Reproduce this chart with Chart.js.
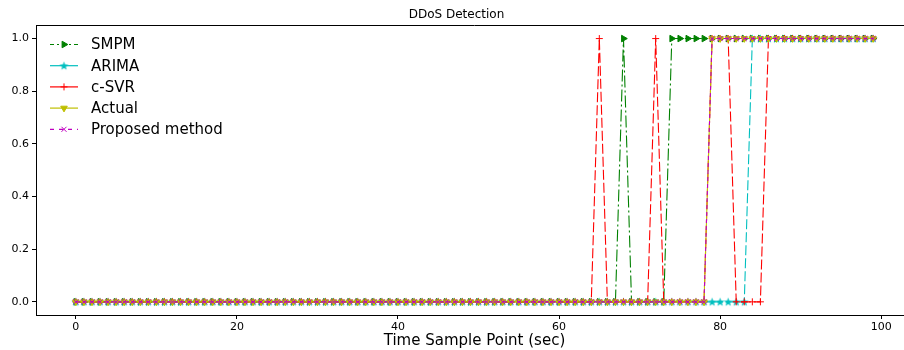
<!DOCTYPE html>
<html><head><meta charset="utf-8">
<script src="https://cdn.jsdelivr.net/npm/chart.js@4"></script>
<style>
html,body{margin:0;padding:0;background:#fff;overflow:hidden;}
#wrap{position:relative;width:920px;height:350px;}
</style></head>
<body><div id="wrap"><canvas id="c" width="920" height="350"></canvas></div>
<script>
// ---- data ----
const samplePoints = [
 0,1,2,3,4,5,6,7,8,9,
 10,11,12,13,14,15,16,17,18,19,
 20,21,22,23,24,25,26,27,28,29,
 30,31,32,33,34,35,36,37,38,39,
 40,41,42,43,44,45,46,47,48,49,
 50,51,52,53,54,55,56,57,58,59,
 60,61,62,63,64,65,66,67,68,69,
 70,71,72,73,74,75,76,77,78,79,
 80,81,82,83,84,85,86,87,88,89,
 90,91,92,93,94,95,96,97,98,99];
const smpm = [
 0,0,0,0,0,0,0,0,0,0,
 0,0,0,0,0,0,0,0,0,0,
 0,0,0,0,0,0,0,0,0,0,
 0,0,0,0,0,0,0,0,0,0,
 0,0,0,0,0,0,0,0,0,0,
 0,0,0,0,0,0,0,0,0,0,
 0,0,0,0,0,0,0,0,1,0,
 0,0,0,0,1,1,1,1,1,1,
 1,1,1,1,1,1,1,1,1,1,
 1,1,1,1,1,1,1,1,1,1];
const arima = [
 0,0,0,0,0,0,0,0,0,0,
 0,0,0,0,0,0,0,0,0,0,
 0,0,0,0,0,0,0,0,0,0,
 0,0,0,0,0,0,0,0,0,0,
 0,0,0,0,0,0,0,0,0,0,
 0,0,0,0,0,0,0,0,0,0,
 0,0,0,0,0,0,0,0,0,0,
 0,0,0,0,0,0,0,0,0,0,
 0,0,0,0,1,1,1,1,1,1,
 1,1,1,1,1,1,1,1,1,1];
const csvr = [
 0,0,0,0,0,0,0,0,0,0,
 0,0,0,0,0,0,0,0,0,0,
 0,0,0,0,0,0,0,0,0,0,
 0,0,0,0,0,0,0,0,0,0,
 0,0,0,0,0,0,0,0,0,0,
 0,0,0,0,0,0,0,0,0,0,
 0,0,0,0,0,1,0,0,0,0,
 0,0,1,0,0,0,0,0,0,1,
 1,1,0,0,0,0,1,1,1,1,
 1,1,1,1,1,1,1,1,1,1];
const actual = [
 0,0,0,0,0,0,0,0,0,0,
 0,0,0,0,0,0,0,0,0,0,
 0,0,0,0,0,0,0,0,0,0,
 0,0,0,0,0,0,0,0,0,0,
 0,0,0,0,0,0,0,0,0,0,
 0,0,0,0,0,0,0,0,0,0,
 0,0,0,0,0,0,0,0,0,0,
 0,0,0,0,0,0,0,0,0,1,
 1,1,1,1,1,1,1,1,1,1,
 1,1,1,1,1,1,1,1,1,1];
const proposed = [
 0,0,0,0,0,0,0,0,0,0,
 0,0,0,0,0,0,0,0,0,0,
 0,0,0,0,0,0,0,0,0,0,
 0,0,0,0,0,0,0,0,0,0,
 0,0,0,0,0,0,0,0,0,0,
 0,0,0,0,0,0,0,0,0,0,
 0,0,0,0,0,0,0,0,0,0,
 0,0,0,0,0,0,0,0,0,1,
 1,1,1,1,1,1,1,1,1,1,
 1,1,1,1,1,1,1,1,1,1];
const xTicks = [0,20,40,60,80,100];
const yTicks = [0.0,0.2,0.4,0.6,0.8,1.0];
const seriesNames = ['SMPM','ARIMA','c-SVR','Actual','Proposed method'];

// ---- helpers ----
const FONT = "'DejaVu Sans', sans-serif";
function starImg(color){
  const c=document.createElement('canvas'); c.width=11; c.height=11;
  const g=c.getContext('2d'); g.fillStyle=color; g.beginPath();
  for(let i=0;i<10;i++){const r=(i%2)?1.9:4.6; const a=-Math.PI/2+i*Math.PI/5; g.lineTo(5.5+r*Math.cos(a),5.8+r*Math.sin(a));}
  g.closePath(); g.fill(); return c;
}
const star = starImg('#00bfbf');
function pts(arr){ return samplePoints.map((x,i)=>({x:x,y:arr[i]})); }

const styles = [
  {color:'#008000', dash:[12,3,2,3], legDash:[4,3,2,3], style:'triangle', rot:90, r:3.8},
  {color:'#00bfbf', dash:[10,3], legDash:[], style:star, rot:0, r:4},
  {color:'#ff0000', dash:[10,3], legDash:[], style:'cross', rot:0, r:3.5},
  {color:'#bfbf00', dash:[], legDash:[], style:'triangle', rot:180, r:3.8},
  {color:'#bf00bf', dash:[4,3], legDash:[4,5], style:'crossRot', rot:0, r:3.6}
];
const seriesData = [smpm, arima, csvr, actual, proposed];

const datasets = seriesNames.map((n,i)=>({
  label:n, data:pts(seriesData[i]),
  borderColor:styles[i].color, backgroundColor:styles[i].color,
  borderWidth:1.1, borderDash:styles[i].dash, tension:0, fill:false,
  pointStyle:styles[i].style, pointRotation:styles[i].rot, pointRadius:styles[i].r,
  pointBackgroundColor:styles[i].color, pointBorderColor:styles[i].color, pointBorderWidth:1,
  order: 5-i
}));

const deco = {
  id:'deco',
  afterDraw(chart){
    const ctx=chart.ctx, a=chart.chartArea;
    ctx.save();
    ctx.strokeStyle='#000'; ctx.lineWidth=1; ctx.setLineDash([]);
    ctx.beginPath(); ctx.moveTo(a.left, Math.round(a.top)+0.5); ctx.lineTo(a.right, Math.round(a.top)+0.5); ctx.stroke();
    // legend
    ctx.font = "15px " + FONT; ctx.textBaseline='middle'; ctx.fillStyle='#000';
    seriesNames.forEach((n,i)=>{
      const y = 44.5 + i*21.2, s = styles[i];
      ctx.save();
      ctx.strokeStyle=s.color; ctx.lineWidth=1.2; ctx.setLineDash(s.legDash);
      ctx.beginPath(); ctx.moveTo(50,y); ctx.lineTo(78,y); ctx.stroke();
      ctx.setLineDash([]);
      ctx.fillStyle=s.color; ctx.strokeStyle=s.color; ctx.lineWidth=1;
      Chart.helpers.drawPoint(ctx,{pointStyle:s.style, rotation:s.rot, radius:s.r, borderWidth:1},64,y);
      ctx.restore();
      ctx.fillText(n, 91, y+1);
    });
    ctx.restore();
  }
};

new Chart(document.getElementById('c'), {
  type:'line',
  data:{datasets:datasets},
  plugins:[deco],
  options:{
    responsive:false, animation:false, devicePixelRatio:1,
    layout:{padding:{left:0,right:7,top:0,bottom:0}},
    plugins:{
      legend:{display:false}, tooltip:{enabled:false},
      title:{display:true, text:'DDoS Detection', color:'#000', font:{family:FONT, size:12, weight:'normal'}, padding:{top:8,bottom:3}}
    },
    scales:{
      x:{type:'linear', min:-4.95, max:103.95,
        afterBuildTicks:s=>{s.ticks=xTicks.map(v=>({value:v}));},
        afterFit:s=>{s.height=35;},
        ticks:{color:'#000', font:{family:FONT,size:11}, padding:2, maxRotation:0, autoSkip:false, callback:v=>String(v)},
        grid:{display:true, drawOnChartArea:false, drawTicks:true, tickLength:4, color:'#000'},
        border:{display:true, color:'#000', width:1},
        title:{display:true, text:'Time Sample Point (sec)', color:'#000', font:{family:FONT,size:15}, padding:{top:0,bottom:0}}
      },
      y:{type:'linear', min:-0.05, max:1.05,
        afterBuildTicks:s=>{s.ticks=yTicks.map(v=>({value:v}));},
        afterFit:s=>{s.width=36;},
        ticks:{color:'#000', font:{family:FONT,size:11}, padding:3, callback:v=>Number(v).toFixed(1)},
        grid:{display:true, drawOnChartArea:false, drawTicks:true, tickLength:4, color:'#000'},
        border:{display:true, color:'#000', width:1}
      }
    }
  }
});
</script>
</body></html>
